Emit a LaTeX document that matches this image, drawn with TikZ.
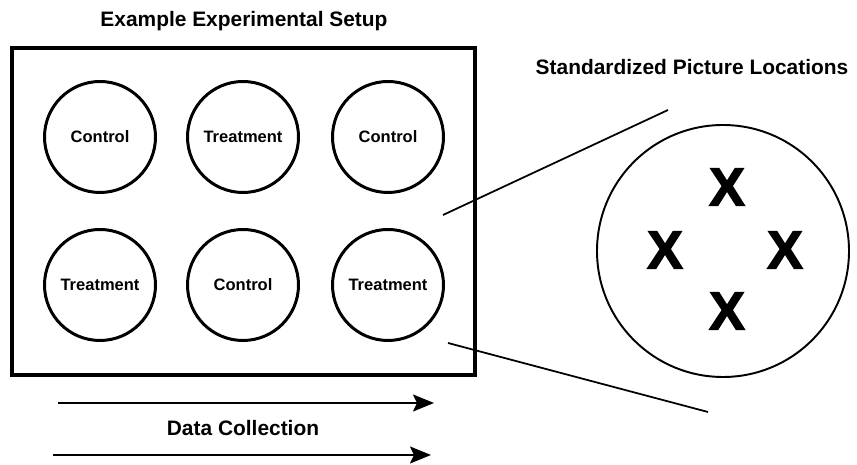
\documentclass[tikz,border=0pt]{standalone}
\usepackage{fontspec}
\setmainfont{Liberation Sans}
\newfontfamily\spotfont{Liberation Sans}[BoldFeatures={FakeBold=2.5}]
\usepackage{tikz}
\usetikzlibrary{arrows.meta}

\begin{document}
\begin{tikzpicture}[
    title/.style={font=\bfseries\fontsize{11.9}{14}\selectfont},
    well/.style={circle, draw, line width=1.7pt, minimum size=2.22cm, inner sep=0pt,
                 font=\bfseries\fontsize{9.4}{11}\selectfont},
    spot/.style={inner sep=0pt, font=\spotfont\bfseries\fontsize{30.5}{34}\selectfont},
    zoomline/.style={line width=1pt},
    timeline/.style={line width=1.1pt, -{Stealth[length=0.42cm, width=0.34cm, inset=0.08cm]}}]
    \useasboundingbox (0, 0) rectangle (17.14, 9.3);
    % titles
    \node[title] (setup) at (4.88, 8.88) {Example Experimental Setup};
    \node[title] (locations) at (13.84, 7.96) {Standardized Picture Locations};
    \node[title] (collection) at (4.86, 0.74) {Data Collection};
    % plate
    \draw[line width=1.8pt] (0.24, 1.8) rectangle (9.5, 8.34);
    % well nodes
    \node[well] (w11) at (2.0, 6.56) {Control};
    \node[well] (w12) at (4.86, 6.56) {Treatment};
    \node[well] (w13) at (7.76, 6.56) {Control};
    \node[well] (w21) at (2.0, 3.6) {Treatment};
    \node[well] (w22) at (4.86, 3.6) {Control};
    \node[well] (w23) at (7.76, 3.6) {Treatment};
    % magnified well
    \node[circle, draw, line width=1.1pt, minimum size=5.04cm, inner sep=0pt] (zoom) at (14.46, 4.28) {};
    \node[spot] (x1) at (14.54, 5.56) {X};
    \node[spot] (x2) at (13.3, 4.3) {X};
    \node[spot] (x3) at (15.7, 4.3) {X};
    \node[spot] (x4) at (14.54, 3.08) {X};
    % magnification lines
    \coordinate (ua) at (8.86, 5.0);
    \coordinate (ub) at (13.36, 7.1);
    \coordinate (la) at (8.96, 2.44);
    \coordinate (lb) at (14.16, 1.06);
    \draw[zoomline] (ua) -- (ub);
    \draw[zoomline] (la) -- (lb);
    % time arrows
    \coordinate (t1a) at (1.16, 1.24);
    \coordinate (t1b) at (8.68, 1.24);
    \coordinate (t2a) at (1.06, 0.2);
    \coordinate (t2b) at (8.62, 0.2);
    \draw[timeline] (t1a) -- (t1b);
    \draw[timeline] (t2a) -- (t2b);
\end{tikzpicture}
\end{document}
